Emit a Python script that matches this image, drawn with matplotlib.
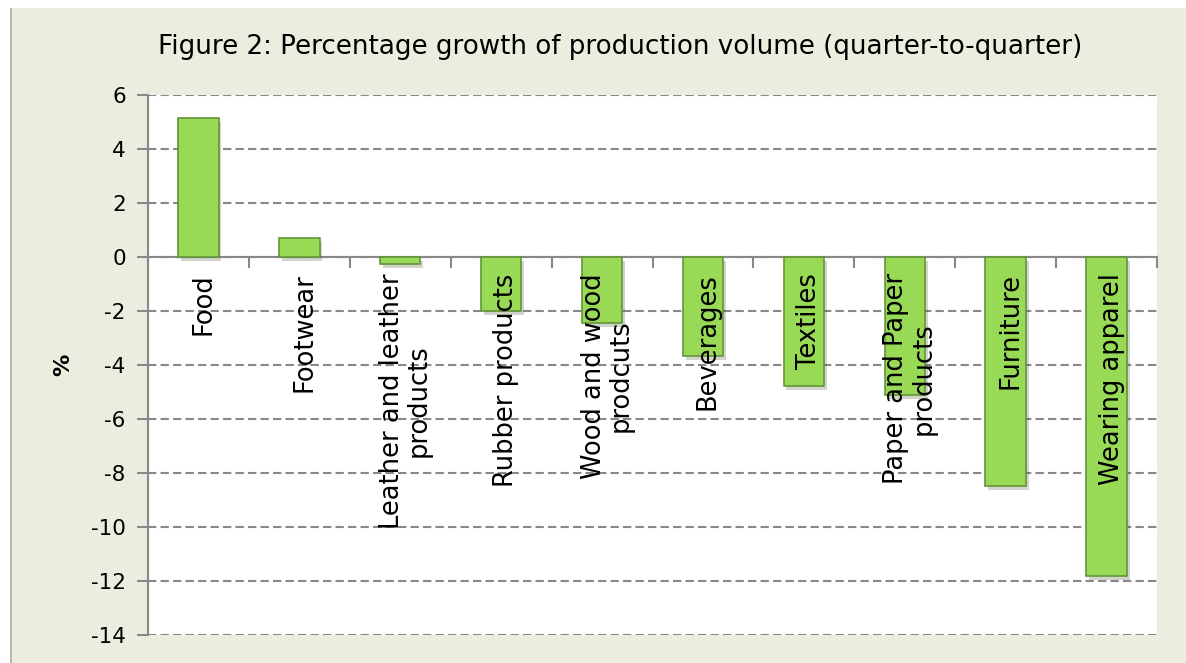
import matplotlib.pyplot as plt
import matplotlib.patheffects as pe
from matplotlib.patches import Rectangle

# === DATA =====================================================================
categories = ["Food", "Footwear", "Leather and leather\nproducts", "Rubber products",
              "Wood and wood\nprodcuts", "Beverages", "Textiles",
              "Paper and Paper\nproducts", "Furniture", "Wearing apparel"]
growth = [5.15, 0.72, -0.27, -2.0, -2.45, -3.67, -4.78, -5.1, -8.48, -11.8]
yticks = [6, 4, 2, 0, -2, -4, -6, -8, -10, -12, -14]
title = "Figure 2: Percentage growth of production volume (quarter-to-quarter)"

# === PLOT RENDERING ===========================================================
plt.rcParams['font.family'] = ['DejaVu Sans']
fig = plt.figure(figsize=(11.86, 6.63), dpi=100)
fig.patch.set_facecolor("white")
# beige panel behind the chart
fig.add_artist(Rectangle((10 / 1186, 0), 1, 1 - 8 / 663, transform=fig.transFigure,
                         facecolor="#b8b8b8", edgecolor="none", zorder=-2))
fig.add_artist(Rectangle((12 / 1186, 0), 1, 1 - 8 / 663, transform=fig.transFigure,
                         facecolor="#ebeedf", edgecolor="none", zorder=-1))

ax = fig.add_axes([148 / 1186, 28 / 663, 1009 / 1186, 540 / 663])
ax.set_facecolor("white")

x = range(len(categories))
bars = ax.bar(x, growth, width=0.4, color="#98d955", edgecolor="#64953a",
              linewidth=1.2, zorder=3)
for b in bars:
    b.set_path_effects([pe.SimplePatchShadow(offset=(2, -3), alpha=0.22), pe.Normal()])

for i, lab in enumerate(categories):
    ax.text(i + 0.05, -0.6, lab, rotation=90, ha="center", va="top", multialignment="center",
            fontsize=18.5, linespacing=1.05, color="black", zorder=4)

ax.set_ylim(-14, 6)
ax.set_xlim(-0.5, len(categories) - 0.5)
ax.set_yticks(yticks)
ax.set_yticklabels([str(t) for t in yticks], fontsize=15.5)
ax.set_xticks([i - 0.5 for i in range(len(categories) + 1)])
ax.set_xticklabels([])
ax.tick_params(axis="both", direction="out", length=8, width=1.5, color="#888888")
ax.tick_params(axis="y", pad=8)

ax.yaxis.grid(True, linestyle=(0, (4, 2)), color="#888888", linewidth=1.5, zorder=0)
ax.set_axisbelow(True)
for s in ["top", "right"]:
    ax.spines[s].set_visible(False)
ax.spines["left"].set_color("#888888")
ax.spines["left"].set_linewidth(1.5)
ax.spines["bottom"].set_position(("data", 0))
ax.spines["bottom"].set_color("#888888")
ax.spines["bottom"].set_linewidth(1.5)
ax.spines["bottom"].set_zorder(2)

ax.set_ylabel("%", fontsize=16, fontweight="bold")
ax.yaxis.set_label_coords(-0.074, 0.5)

fig.text(620 / 1186, 1 - 47 / 663, title, ha="center", va="center", fontsize=18.8)

plt.savefig("out.png", dpi=100)
